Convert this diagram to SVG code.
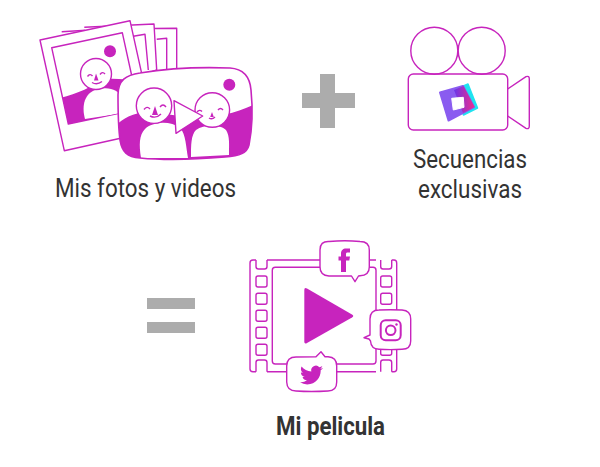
<svg xmlns="http://www.w3.org/2000/svg" width="600" height="467" viewBox="0 0 600 467">
<style>
.l{fill:none;stroke:#c724bd;stroke-width:1.400;stroke-linejoin:round}
.w{fill:#fff;stroke:#c724bd;stroke-width:1.400;stroke-linejoin:round}
.t{fill:#c724bd}
.wf{fill:#fff}
.lbl{font-family:Roboto,"Liberation Sans",sans-serif;font-size:25px;fill:#333}
.op{fill:#acacac}
</style>
<defs>
<clipPath id="pol"><polygon points="51.7,47.7 122.3,32.7 139,109 68.3,124"/></clipPath>
<clipPath id="vid"><path d="M118,95C118,80 126,75 140,73C170,68 205,67 230,68C245,69 250,78 251,90C253,110 252,130 249,145C247,153 240,156 225,157C190,160 160,160 140,158C127,157 122,152 120,140C118,125 118,110 118,95Z"/></clipPath>
<linearGradient id="ov" x1="0" y1="0" x2="1" y2="0"><stop offset="0" stop-color="#6a35e8"/><stop offset="1" stop-color="#f02d8c"/></linearGradient>
</defs>
<g id="photos">
<polyline class="l" points="154,28.500 176.700,28.300 176.700,70"/>
<polyline class="l" points="156.700,39.300 166.700,38.300 166.700,70"/>
<polyline class="l" points="61.700,31.700 90,30"/>
<polyline class="w" points="84.300,27.300 154,24 156.700,70 100,90"/>
<polyline class="l" points="133.300,36.300 145,34.300 148.300,70"/>
<polygon class="w" points="40,40 130,20.700 154.300,130.700 64.300,150.700"/>
<polygon class="w" points="51.700,47.700 122.300,32.700 139,109 68.300,124"/>
<g clip-path="url(#pol)">
<path class="t" d="M60,98C78,94 92,86 105,79C118,78 130,80 142,82V125H60Z"/>
<path class="wf" d="M85,119C82,108 83,95 95,90C108,86 118,89 122,98L124,113Z"/>
</g>
<circle class="t" cx="110" cy="51.300" r="6"/>
<circle class="w" cx="96" cy="74" r="15.500"/>
<path class="l" d="M87.500,76.500q2.500-3.500 5-.5M100,74.500q2.500-3.500 5-.5M92,82.500q5,3 10-1"/>
<path class="t" d="M96,73.500l2.500,7h-4.500z"/>
</g>
<g id="video">
<path class="wf" d="M118,95C118,80 126,75 140,73C170,68 205,67 230,68C245,69 250,78 251,90C253,110 252,130 249,145C247,153 240,156 225,157C190,160 160,160 140,158C127,157 122,152 120,140C118,125 118,110 118,95Z"/>
<g clip-path="url(#vid)">
<path class="t" d="M115,126C125,117 135,112 150,112L195,118C215,118 240,112 255,104V162H115Z"/>
<path class="wf" d="M141,158C139,145 139,135 145,129C152,122 170,120 180,128C186,134 186,148 188,158Z"/>
<path class="wf" d="M191,157C191,145 191,135 196,130C204,124 220,124 226,130C230,136 229,145 229,155Z"/>
</g>
<path class="l" style="stroke-width:1.600" d="M118,95C118,80 126,75 140,73C170,68 205,67 230,68C245,69 250,78 251,90C253,110 252,130 249,145C247,153 240,156 225,157C190,160 160,160 140,158C127,157 122,152 120,140C118,125 118,110 118,95Z"/>
<circle class="t" cx="229.300" cy="84.700" r="6"/>
<circle class="w" cx="154" cy="105.700" r="17.700"/>
<circle class="w" cx="212.300" cy="110" r="17.300"/>
<path class="l" d="M144,109.500q3-4 6-.5M160,107q3-4 6,0M150,116q6,3 11-2M197,112q2.500-3 5-.5M218,110q2.500-3 5,0M209,118q3,2 6-1"/>
<path class="t" d="M155,106l3,9h-6zM212,112l1.800,5h-3.600z"/>
<polygon class="w" points="174,100.700 202.700,116 176,133.300"/>
</g>
<g id="plus">
<path class="op" d="M320,74h15v19h20v15h-20v20h-15v-20h-18v-15h18z"/>
</g>
<g id="camera">
<circle class="l" cx="434.300" cy="50.700" r="23.500"/>
<circle class="l" cx="481.700" cy="50.700" r="23.500"/>
<rect class="l" x="408.300" y="74" width="99.400" height="56" rx="5"/>
<path class="l" d="M507.700,89L526,76.700Q529.300,75.500 529.300,79V126Q529.300,129.500 526,128.300L507.700,116"/>
<g id="logo" stroke-linejoin="round">
<polygon points="454,90 468,84 477.500,108 463.500,115" fill="#1fe3f0" stroke="#1fe3f0" stroke-width="1.500"/>
<polygon points="440,92.500 463,86 474,107 448.500,120.500" fill="#8a5cf0" stroke="#8a5cf0" stroke-width="2"/>
<polygon points="454,90 463.500,86 474.500,107 463,113" fill="url(#ov)"/>
<polygon points="451.700,98.300 463.300,97.300 464,107.300 453.300,110" fill="#fff" stroke="#fff"/>
</g>
</g>
<g id="equals">
<rect class="op" x="147" y="298" width="48" height="11"/>
<rect class="op" x="147" y="322" width="48" height="11"/>
</g>
<g id="film">
<path class="l" d="M267,260H376M267,371.700H376M256,260V266.500Q256,269 258.500,269H264.500Q267,269 267,266.500V260M256,371.700V362.500Q256,360 258.500,360H264.500Q267,360 267,362.500V371.700"/>
<path class="l" d="M256,260H253Q250,260 250,263V369Q250,371.700 253,371.700H256"/>
<path class="l" d="M380.700,260V266.500Q380.700,269 383,269H389Q391.700,269 391.700,266.500V260M380.700,371.700V362.500Q380.700,360 383,360H389Q391.700,360 391.700,362.500V371.700"/>
<path class="l" d="M391.700,260H394Q396.700,260 396.700,263V369Q396.700,371.700 394,371.700H391.700"/>
<rect class="l" x="272.300" y="267.300" width="103.700" height="96.700" rx="3"/>
<g class="holes">
<rect class="l" x="256" y="276" width="11" height="11" rx="2"/>
<rect class="l" x="256" y="293.300" width="11" height="11" rx="2"/>
<rect class="l" x="256" y="310.300" width="11" height="11" rx="2"/>
<rect class="l" x="256" y="327.300" width="11" height="11" rx="2"/>
<rect class="l" x="256" y="344.300" width="11" height="11" rx="2"/>
<rect class="l" x="380.700" y="276" width="11" height="11" rx="2"/>
<rect class="l" x="380.700" y="293.300" width="11" height="11" rx="2"/>
<rect class="l" x="380.700" y="344.300" width="11" height="11" rx="2"/>
</g>
<path class="t" d="M304.300,290Q304.300,287 307,288.500L352,314.500Q354.500,316 352,317.500L307,343Q304.300,344.500 304.300,341.500Z"/>
</g>
<g id="facebook">
<path class="w" d="M320,250Q320,241 329,241.500Q345,240 360,241.500Q369.300,241.500 369.300,250V267Q369.300,275.500 360,275.700L358.500,276L355,281.700L351.500,276L329,276Q320,275.500 320,267Z"/>
<path class="t" d="M341,272V260.500H338.500V256.500H341V253.500C341,250.500 343,248.500 346,248.500H350V252.500H347.500C346.500,252.500 346,253 346,254V256.500H350L349.300,260.500H346V272Z"/>
</g>
<g id="instagram">
<path class="w" d="M370,319Q370,310 379,310Q390,309.500 402,310Q410.700,310.500 410.700,319V341Q410.700,349.300 402,349.300Q390,350 379,349.300Q371,349 370.500,341L369,339L364,337.700L370,335Z"/>
<rect x="380.700" y="320.300" width="20" height="20" rx="5" fill="none" stroke="#c724bd" stroke-width="2"/>
<circle cx="390.700" cy="330.300" r="4.800" fill="none" stroke="#c724bd" stroke-width="2"/>
<circle class="t" cx="396.500" cy="324.500" r="1.200"/>
</g>
<g id="twitter">
<path class="w" d="M286.700,366Q286.700,357 296,357L316,356.700L321,351.700L325,356.700H328Q336.700,357 336.700,366V382Q336.700,391 328,391Q311,392 296,391Q287,391 286.700,382Z"/>
<path class="t" transform="translate(300,363.500) scale(.96)" d="M23.953 4.570a10 10 0 01-2.825.775 4.958 4.958 0 002.163-2.723c-.951.555-2.005.959-3.127 1.184a4.920 4.920 0 00-8.384 4.482C7.690 8.095 4.067 6.130 1.640 3.162a4.822 4.822 0 00-.666 2.475c0 1.710.870 3.213 2.188 4.096a4.904 4.904 0 01-2.228-.616v.060a4.923 4.923 0 003.946 4.827 4.996 4.996 0 01-2.212.085 4.936 4.936 0 004.604 3.417 9.867 9.867 0 01-6.102 2.105c-.390 0-.779-.023-1.170-.067a13.995 13.995 0 007.557 2.209c9.053 0 13.998-7.496 13.998-13.985 0-.210 0-.420-.015-.630A9.935 9.935 0 0024 4.590z"/>
</g>
<g id="labels">
<text class="lbl" x="55" y="197" textLength="181" lengthAdjust="spacingAndGlyphs">Mis fotos y videos</text>
<text class="lbl" x="413" y="168" textLength="114" lengthAdjust="spacingAndGlyphs">Secuencias</text>
<text class="lbl" x="418" y="198" textLength="104" lengthAdjust="spacingAndGlyphs">exclusivas</text>
<text class="lbl" x="276" y="435" textLength="109" lengthAdjust="spacingAndGlyphs" font-weight="700">Mi pelicula</text>
</g>
</svg>
